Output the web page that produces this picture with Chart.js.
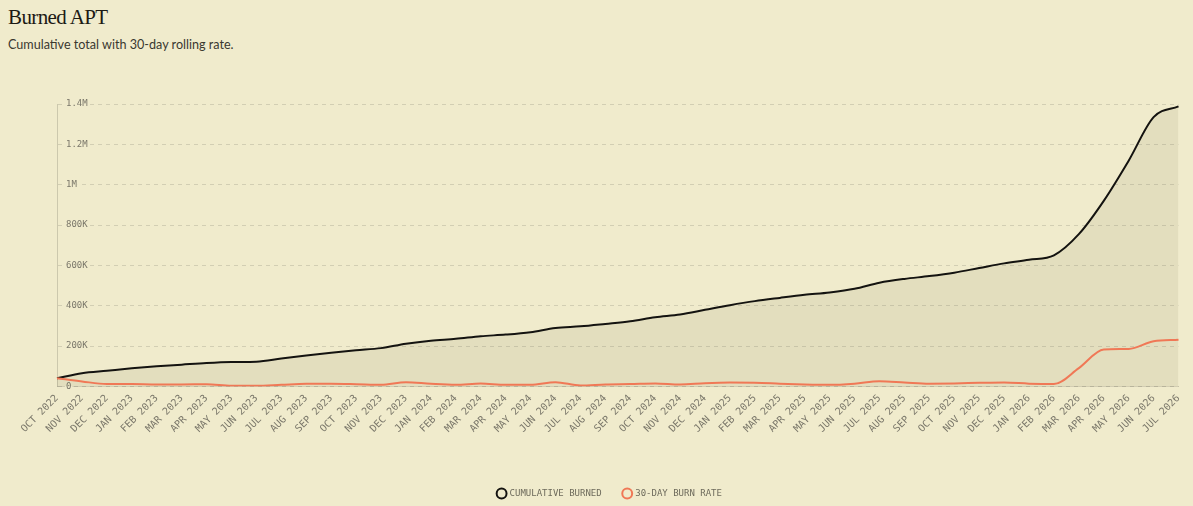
<!DOCTYPE html>
<html>
<head>
<meta charset="utf-8">
<script src="https://cdn.jsdelivr.net/npm/chart.js@4"></script>
<style>
  html, body { margin: 0; padding: 0; background: #f0ebcc; }
  body { width: 1193px; height: 506px; position: relative; overflow: hidden; }
  #title { position: absolute; left: 8px; top: 5px; font-family: "Liberation Serif", serif; font-size: 21px; color: #1c1a14; letter-spacing: -0.6px; }
  #subtitle { position: absolute; left: 8px; top: 37px; font-family: "Lato", sans-serif; font-size: 12.6px; color: #3a3830; }
  #wrap { position: absolute; left: 0; top: 60px; width: 1193px; height: 448px; }
</style>
</head>
<body>
<div id="title">Burned APT</div>
<div id="subtitle">Cumulative total with 30-day rolling rate.</div>
<div id="wrap"><canvas id="c"></canvas></div>
<script>
const categories = ["OCT 2022","NOV 2022","DEC 2022","JAN 2023","FEB 2023","MAR 2023","APR 2023","MAY 2023","JUN 2023","JUL 2023","AUG 2023","SEP 2023","OCT 2023","NOV 2023","DEC 2023","JAN 2024","FEB 2024","MAR 2024","APR 2024","MAY 2024","JUN 2024","JUL 2024","AUG 2024","SEP 2024","OCT 2024","NOV 2024","DEC 2024","JAN 2025","FEB 2025","MAR 2025","APR 2025","MAY 2025","JUN 2025","JUL 2025","AUG 2025","SEP 2025","OCT 2025","NOV 2025","DEC 2025","JAN 2026","FEB 2026","MAR 2026","APR 2026","MAY 2026","JUN 2026","JUL 2026"];
const cumulativeBurned = [41000,66000,78000,90000,100000,108000,116000,121000,123000,138000,153000,167000,179000,190000,212000,227000,236000,249000,257000,269000,290000,298000,310000,323000,343000,357000,380000,403000,423000,439000,454000,466000,484000,514000,533000,547000,564000,587000,610000,628000,650000,755000,920000,1119000,1335000,1388000];
const burnRate30d = [41000,25000,12000,12000,10000,10000,11000,3000,3000,8000,13000,13000,11000,8000,21000,13000,8000,15000,8000,8000,21000,5000,10000,12000,15000,10000,16000,19000,18000,14000,10000,8000,14000,26000,20000,14000,15000,18000,20000,14000,12000,91000,183000,186000,224000,232000];
const yTicks = [0,200000,400000,600000,800000,1000000,1200000,1400000];
const yTickLabels = ["0","200K","400K","600K","800K","1M","1.2M","1.4M"];

const BG = "#f0ebcc";
const mono = "'DejaVu Sans Mono', monospace";

new Chart(document.getElementById("c"), {
  type: "line",
  data: {
    labels: categories,
    datasets: [
      {
        label: "CUMULATIVE BURNED",
        data: cumulativeBurned,
        borderColor: "#141310",
        backgroundColor: "rgba(60,50,10,0.07)",
        borderWidth: 2,
        fill: "origin",
        pointRadius: 0,
        cubicInterpolationMode: "monotone",
        order: 2
      },
      {
        label: "30-DAY BURN RATE",
        data: burnRate30d,
        borderColor: "#f07856",
        backgroundColor: "#f07856",
        borderWidth: 2,
        fill: false,
        pointRadius: 0,
        cubicInterpolationMode: "monotone",
        order: 1
      }
    ]
  },
  options: {
    responsive: true,
    maintainAspectRatio: false,
    animation: false,
    layout: { padding: { top: 44, left: 39, right: 12, bottom: 0 } },
    plugins: {
      tooltip: { enabled: false },
      legend: {
        position: "bottom",
        labels: {
          usePointStyle: true,
          pointStyle: "circle",
          boxWidth: 7,
          boxHeight: 7,
          padding: 22,
          color: "#6e6b5c",
          font: { family: mono, size: 9 },
          generateLabels(chart) {
            return chart.data.datasets.map((ds, i) => ({
              text: ds.label,
              fillStyle: BG,
              strokeStyle: ds.borderColor,
              lineWidth: 2,
              pointStyle: "circle",
              fontColor: "#6e6b5c",
              hidden: false,
              datasetIndex: i
            }));
          }
        }
      }
    },
    scales: {
      x: {
        offset: false,
        grid: { display: false, drawTicks: false },
        border: { display: true, color: "rgba(0,0,0,0.12)" },
        afterFit(scale) { scale.height += 26; },
        ticks: {
          autoSkip: false,
          maxRotation: 45,
          minRotation: 45,
          padding: 6,
          color: "#7a776a",
          font: { family: mono, size: 10 }
        }
      },
      y: {
        min: 0,
        max: 1400000,
        afterBuildTicks(scale) { scale.ticks = yTicks.map(v => ({ value: v })); },
        grid: { color: "rgba(0,0,0,0.12)", drawTicks: false },
        border: { display: true, color: "rgba(0,0,0,0.15)", dash: [4, 4] },
        ticks: {
          mirror: true,
          padding: 9,
          color: "#7a776a",
          font: { family: mono, size: 9 },
          showLabelBackdrop: true,
          backdropColor: BG,
          backdropPadding: 1,
          callback(v) { const i = yTicks.indexOf(v); return i >= 0 ? yTickLabels[i] : ""; }
        }
      }
    }
  }
});
</script>
</body>
</html>
